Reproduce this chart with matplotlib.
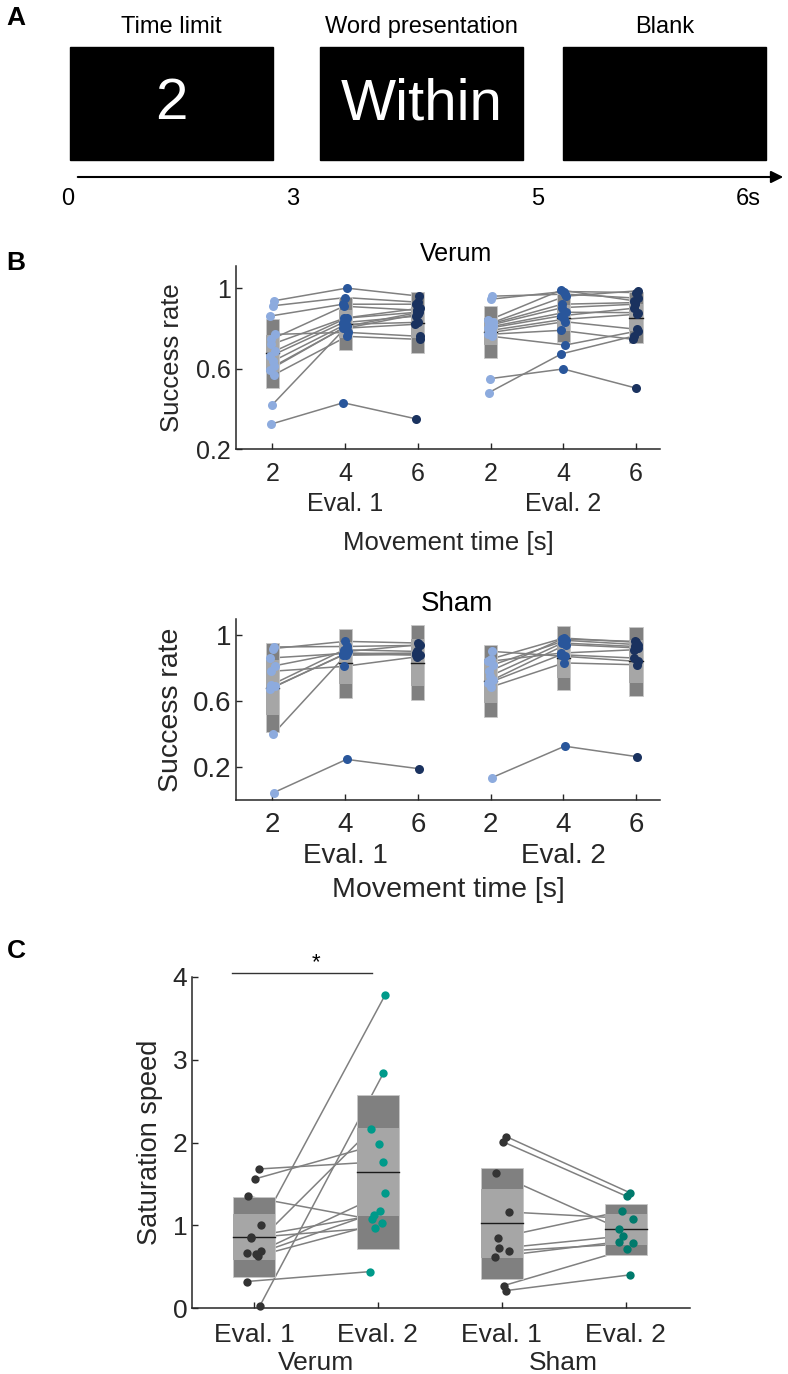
import matplotlib
matplotlib.use('Agg')
import matplotlib.pyplot as plt
from matplotlib.patches import Rectangle
from matplotlib.transforms import blended_transform_factory
import numpy as np

plt.rcParams['font.family'] = ['Liberation Sans', 'DejaVu Sans']

W, H = 788, 1374

# ---- panel A: trial schematic ----
phase_names = ['Time limit', 'Word presentation', 'Blank']
phase_words = ['2', 'Within', '']
time_ticks = ['0', '3', '5', '6s']

# ---- panel B: success rate per subject, rows = movement time 2/4/6 s ----
verum_eval1 = [
    [0.937, 0.912, 0.861, 0.770, 0.745, 0.720, 0.687, 0.661, 0.637, 0.612, 0.595, 0.570, 0.420, 0.323],
    [1.000, 0.953, 0.920, 0.780, 0.910, 0.850, 0.853, 0.828, 0.820, 0.810, 0.800, 0.760, 0.800, 0.430],
    [0.960, 0.930, 0.920, 0.760, 0.890, 0.880, 0.900, 0.860, 0.830, 0.880, 0.820, 0.745, 0.870, 0.350],
]
verum_eval2 = [
    [0.960, 0.945, 0.840, 0.830, 0.820, 0.815, 0.810, 0.800, 0.790, 0.780, 0.770, 0.760, 0.550, 0.480],
    [0.970, 0.983, 0.990, 0.960, 0.920, 0.903, 0.880, 0.862, 0.845, 0.833, 0.790, 0.717, 0.598, 0.673],
    [0.950, 0.978, 0.937, 0.987, 0.928, 0.920, 0.878, 0.900, 0.870, 0.795, 0.745, 0.787, 0.503, 0.762],
]
sham_eval1 = [
    [0.930, 0.920, 0.863, 0.816, 0.782, 0.700, 0.691, 0.675, 0.400, 0.045],
    [0.933, 0.964, 0.890, 0.903, 0.812, 0.913, 0.893, 0.883, 0.880, 0.247],
    [0.940, 0.954, 0.893, 0.944, 0.870, 0.903, 0.880, 0.883, 0.890, 0.190],
]
sham_eval2 = [
    [0.903, 0.857, 0.842, 0.822, 0.782, 0.752, 0.731, 0.711, 0.687, 0.136],
    [0.873, 0.984, 0.893, 0.970, 0.978, 0.954, 0.944, 0.883, 0.833, 0.327],
    [0.842, 0.958, 0.913, 0.944, 0.964, 0.933, 0.924, 0.863, 0.822, 0.263],
]
move_ticks = ['2', '4', '6']

# ---- panel C: saturation speed ----
verum_sat_e1 = [1.68, 1.56, 1.35, 1.00, 0.86, 0.85, 0.69, 0.67, 0.65, 0.63, 0.32, 0.02]
verum_sat_e2 = [1.77, 1.98, 1.07, 3.78, 1.12, 0.97, 1.39, 2.16, 1.17, 1.03, 0.44, 2.84]
sham_sat_e1 = [2.07, 2.01, 1.63, 1.16, 0.85, 0.72, 0.69, 0.62, 0.27, 0.21]
sham_sat_e2 = [1.39, 1.35, 0.96, 1.08, 1.17, 0.87, 0.78, 0.80, 0.71, 0.40]

# colours
dark_box = '#808080'
light_box = '#a6a6a6'
line_gray = '#808080'
blues = ['#8dabde', '#29569b', '#1a325f']
axis_col = '#262626'


def px_axes(x, y, w, h):
    return [x / W, 1 - (y + h) / H, w / W, h / H]


def not_box(ax, x, vals, width):
    vals = np.asarray(vals)
    m = vals.mean()
    sd = vals.std(ddof=1)
    ci = 1.96 * sd / np.sqrt(len(vals))
    ax.bar(x, 2 * sd, bottom=m - sd, width=width, color=dark_box,
           edgecolor='#c8c8c8', lw=0.6, zorder=2)
    ax.bar(x, 2 * ci, bottom=m - ci, width=width, color=light_box, lw=0, zorder=2.1)
    ax.plot([x - width / 2, x + width / 2], [m, m], color='#1a1a1a', lw=1.0, zorder=2.2)


def style_axis(ax, fs):
    for s in ['top', 'right']:
        ax.spines[s].set_visible(False)
    for s in ['left', 'bottom']:
        ax.spines[s].set_color(axis_col)
        ax.spines[s].set_linewidth(1.1)
    ax.tick_params(direction='in', length=4, width=1, colors=axis_col,
                   labelsize=fs, labelcolor=axis_col)


def success_panel(ax, evals, title, fs, ylim, tick_pad, eval_off, xlab_off, title_off, ylab_x):
    for k, ev in enumerate(evals):
        data = np.array(ev)
        n = data.shape[1]
        xs = np.arange(3) + 1 + 3 * k
        jit = 0.035 * np.sin(2.3 * np.arange(n) + 0.7)
        for i in range(n):
            ax.plot(xs + jit[i], data[:, i], color=line_gray, lw=1.1, zorder=1)
        for j in range(3):
            not_box(ax, xs[j], data[j], 0.18)
            ax.plot(xs[j] + jit, data[j], 'o', color=blues[j], ms=6.5, mew=0, zorder=3)
    style_axis(ax, fs)
    ax.set_xlim(0.5, 6.33)
    ax.set_ylim(*ylim)
    ax.set_xticks(np.arange(1, 7))
    ax.set_xticklabels(move_ticks * 2)
    ax.set_yticks([0.2, 0.6, 1.0])
    ax.set_yticklabels(['0.2', '0.6', '1'])
    ax.tick_params(axis='x', pad=tick_pad)
    tr = blended_transform_factory(ax.transData, ax.transAxes)
    for k, lab in enumerate(['Eval. 1', 'Eval. 2']):
        ax.annotate(lab, xy=(2 + 3 * k, 0), xycoords=tr, xytext=(0, -eval_off),
                    textcoords='offset pixels', ha='center', va='center',
                    fontsize=fs, color=axis_col)
    ax.annotate('Movement time [s]', xy=(0.5, 0), xycoords='axes fraction',
                xytext=(0, -xlab_off), textcoords='offset pixels',
                ha='center', va='center', fontsize=fs + 0.5, color=axis_col)
    ax.annotate(title, xy=(0.52, 1), xycoords='axes fraction', xytext=(0, title_off),
                textcoords='offset pixels', ha='center', va='center', fontsize=fs)
    ax.text(ylab_x, 0.5, 'Success rate', transform=ax.transAxes, rotation=90,
            ha='center', va='center', fontsize=fs + 0.5, color=axis_col)


fig = plt.figure(figsize=(W / 100, H / 100), dpi=100)

# ---------------- panel A ----------------
ax_a = fig.add_axes([0, 1 - 215 / H, 1, 215 / H])
ax_a.set_xlim(0, W)
ax_a.set_ylim(215, 0)
ax_a.axis('off')
box_left = [70, 320, 563]
box_w = 203
for x0, name, word in zip(box_left, phase_names, phase_words):
    ax_a.add_patch(Rectangle((x0, 47), box_w, 113, color='black'))
    ax_a.text(x0 + box_w / 2, 27, name, ha='center', va='center', fontsize=17)
    ax_a.text(x0 + box_w / 2, 104, word, ha='center', va='center', fontsize=42, color='white')
ax_a.annotate('', xy=(786, 177), xytext=(75, 177),
              arrowprops=dict(arrowstyle='-|>', lw=1.5, color='black', mutation_scale=18))
for x0, lab in zip([68, 293, 538, 748], time_ticks):
    ax_a.text(x0, 199, lab, ha='center', va='center', fontsize=17)

for lab, y in zip(['A', 'B', 'C'], [18, 263, 951]):
    fig.text(16 / W, 1 - y / H, lab, fontsize=19, fontweight='bold', ha='center', va='center')

# ---------------- panel B ----------------
ax_v = fig.add_axes(px_axes(236, 266, 424, 183))
success_panel(ax_v, [verum_eval1, verum_eval2], 'Verum', 18, (0.2, 1.11),
              tick_pad=9, eval_off=55, xlab_off=94, title_off=12, ylab_x=-0.152)

ax_s = fig.add_axes(px_axes(236, 619, 424, 181))
success_panel(ax_s, [sham_eval1, sham_eval2], 'Sham', 20, (0.0, 1.1),
              tick_pad=9, eval_off=56, xlab_off=90, title_off=15, ylab_x=-0.153)

# ---------------- panel C ----------------
ax_c = fig.add_axes(px_axes(192, 977, 498, 331))
groups = [(verum_sat_e1, verum_sat_e2, '#009a8a'), (sham_sat_e1, sham_sat_e2, '#007a6c')]
for k, (e1, e2, teal) in enumerate(groups):
    e1 = np.array(e1)
    e2 = np.array(e2)
    xs = np.array([1, 2]) + 2 * k
    jit = 0.06 * np.sin(2.3 * np.arange(len(e1)) + 0.7)
    for i in range(len(e1)):
        ax_c.plot(xs + jit[i], [e1[i], e2[i]], color=line_gray, lw=1.1, zorder=1)
    not_box(ax_c, xs[0], e1, 0.34)
    not_box(ax_c, xs[1], e2, 0.34)
    ax_c.plot(xs[0] + jit, e1, 'o', color='#333333', ms=6, mew=0, zorder=3, clip_on=False)
    ax_c.plot(xs[1] + jit, e2, 'o', color=teal, ms=6, mew=0, zorder=3, clip_on=False)

style_axis(ax_c, 19)
ax_c.set_xlim(0.5, 4.52)
ax_c.set_ylim(0, 4)
ax_c.set_yticks([0, 1, 2, 3, 4])
ax_c.set_xticks([1, 2, 3, 4])
ax_c.set_xticklabels(['Eval. 1', 'Eval. 2', 'Eval. 1', 'Eval. 2'])
ax_c.tick_params(axis='x', pad=11)
trc = blended_transform_factory(ax_c.transData, ax_c.transAxes)
for x0, lab in zip([1.5, 3.5], ['Verum', 'Sham']):
    ax_c.annotate(lab, xy=(x0, 0), xycoords=trc, xytext=(0, -55),
                  textcoords='offset pixels', ha='center', va='center',
                  fontsize=19, color=axis_col)
ax_c.text(-0.085, 0.5, 'Saturation speed', transform=ax_c.transAxes, rotation=90,
          ha='center', va='center', fontsize=19.5, color=axis_col)
ax_c.plot([0.82, 1.95], [4.05, 4.05], color='#333333', lw=1, clip_on=False)
ax_c.text(1.5, 4.05, '*', ha='center', va='bottom', fontsize=16, color='black')

fig.savefig('out.png', dpi=100)
